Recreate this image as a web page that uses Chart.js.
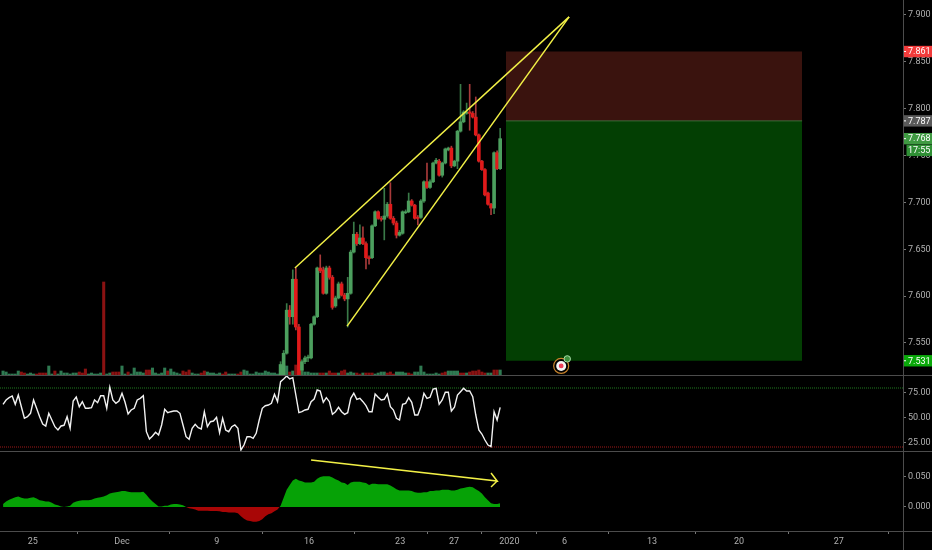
<!DOCTYPE html>
<html>
<head>
<meta charset="utf-8">
<style>html,body{margin:0;padding:0;background:#000;overflow:hidden}canvas{display:block}</style>
<script src="https://cdn.jsdelivr.net/npm/chart.js@4"></script>
</head>
<body>
<canvas id="c" width="932" height="550"></canvas>
<script>
// ---- data ----
const candleStart = 91;
const candleOpen = [7.516,7.516,7.539,7.585,7.578,7.618,7.567,7.521,7.530,7.534,7.534,7.570,7.578,7.630,7.628,7.603,7.630,7.620,7.5895,7.598,7.613,7.601,7.597,7.603,7.647,7.666,7.656,7.662,7.656,7.641,7.641,7.675,7.690,7.683,7.682,7.6855,7.698,7.683,7.678,7.665,7.667,7.689,7.690,7.7015,7.697,7.684,7.684,7.7015,7.722,7.716,7.722,7.742,7.744,7.729,7.742,7.756,7.758,7.739,7.744,7.776,7.786,7.795,7.7965,7.795,7.791,7.772,7.744,7.735,7.710,7.698,7.694,7.753,7.736];
const candleClose = [7.527,7.539,7.585,7.578,7.618,7.567,7.516,7.530,7.534,7.535,7.570,7.578,7.630,7.627,7.603,7.630,7.620,7.588,7.598,7.613,7.601,7.597,7.603,7.647,7.666,7.656,7.662,7.656,7.641,7.640,7.675,7.690,7.683,7.682,7.6855,7.698,7.683,7.678,7.665,7.668,7.690,7.690,7.7015,7.697,7.683,7.683,7.7015,7.722,7.716,7.722,7.742,7.745,7.729,7.742,7.757,7.758,7.739,7.744,7.776,7.786,7.7965,7.7965,7.795,7.791,7.772,7.744,7.735,7.708,7.698,7.694,7.753,7.736,7.768];
const candleHigh = [7.530,7.542,7.592,7.590,7.628,7.630,7.570,7.532,7.536,7.537,7.571,7.579,7.631,7.644,7.631,7.632,7.632,7.622,7.600,7.615,7.615,7.603,7.620,7.649,7.679,7.668,7.676,7.674,7.658,7.643,7.676,7.691,7.691,7.685,7.715,7.700,7.721,7.685,7.680,7.670,7.691,7.692,7.710,7.703,7.698,7.686,7.703,7.723,7.742,7.724,7.743,7.747,7.746,7.743,7.758,7.759,7.760,7.745,7.777,7.826,7.798,7.806,7.826,7.797,7.8125,7.773,7.745,7.736,7.711,7.699,7.754,7.755,7.779];
const candleLow = [7.516,7.516,7.538,7.570,7.570,7.564,7.516,7.516,7.528,7.530,7.533,7.569,7.577,7.625,7.602,7.602,7.618,7.586,7.588,7.597,7.600,7.595,7.567,7.602,7.646,7.654,7.655,7.655,7.629,7.634,7.640,7.674,7.682,7.680,7.660,7.684,7.682,7.676,7.662,7.664,7.666,7.688,7.689,7.696,7.682,7.676,7.683,7.700,7.715,7.715,7.721,7.741,7.728,7.727,7.741,7.755,7.737,7.738,7.736,7.775,7.785,7.794,7.777,7.790,7.771,7.743,7.734,7.707,7.697,7.687,7.688,7.735,7.735];
// negative = down bar
const volumes = [4,3,1,1,1,4,-3,-2,1,2,1,-1,-2,-2,-2,9,1,-4,1,4,2,2,1,2,2,-3,-2,-6,1,2,1,1,2,-93,1,2,-3,-3,-3,9,1,-3,1,7,3,3,2,-5,-5,7,2,1,2,7,-4,6,3,2,1,-4,-3,-5,2,1,1,-2,-4,3,2,2,1,2,-1,-3,1,1,1,-1,-3,5,4,1,1,3,2,2,4,3,2,2,1,
 9,10,9,-3,4,-10,-9,5,3,3,2,2,2,-2,-2,2,-4,-2,-2,2,-4,-5,2,3,2,-2,-1,2,-2,-2,-2,1,2,3,3,-2,-3,-1,3,3,3,2,-2,-1,3,3,9,3,1,1,1,2,1,-2,-3,4,4,4,4,-2,-2,2,-3,-4,-4,-5,-3,-2,2,2,-5,-5,5];
const rsiValues = [63.4,67.7,70,71.7,63.4,72.7,61,49.4,51,54.4,67.7,59.4,51,43.7,41.7,54.4,47.7,41,37.7,41.7,42.4,51,39.4,66.7,70.7,61,66,59.4,59.4,60,67.7,65,72,72,59.4,80.4,67.7,64.4,66.7,74.4,65.4,53.7,57.7,59.4,67.7,69.4,72,36,28.7,31.7,35.4,32.7,42.7,58.4,55,56,56.7,56.7,54.4,42.7,31,28.4,39.4,43.4,40,38.7,56,41,46,46.7,50.4,35,49.4,37.7,36,41,42.7,39.4,17.7,22.7,31,31,29.4,34.4,47.7,59.4,62,62.7,64.4,73.4,66,86,88.7,91.7,88.7,
 90,72.7,55,56,57.7,58.4,66,68.7,77.7,76.7,65.4,70,66,53.4,56,60.4,56,53.4,55,69.4,74.4,68.4,69.4,66,62,56,56,73.7,70.4,67.7,68.4,73.7,61,57.7,49.4,47.7,63.4,64.4,70,65.4,52.7,52.7,61,74.4,69.4,70.4,78.7,79.4,63.4,67.7,75.4,75.4,56.7,60.4,72.7,76,79.4,76.7,76.7,71,52.7,37.7,33.7,27.7,22.7,21,56,47.7,60.4];
const oscValues = [.001,.005,.009,.012,.014,.016,.017,.015,.014,.014,.015,.016,.014,.011,.010,.009,.009,.007,.004,.003,.001,0,.001,.002,.007,.009,.010,.011,.011,.011,.012,.014,.015,.016,.017,.019,.022,.023,.024,.025,.026,.026,.025,.024,.024,.024,.024,.025,.020,.014,.009,.005,.001,.001,.002,.002,.004,.005,.005,.004,.003,0,-.002,-.003,-.004,-.006,-.006,-.006,-.006,-.0065,-.0065,-.0065,-.007,-.008,-.008,-.009,-.009,-.009,-.010,-.015,-.019,-.022,-.023,-.024,-.024,-.023,-.020,-.015,-.012,-.010,-.007,-.004,.002,.015,.028,
 .036,.043,.046,.043,.042,.040,.040,.040,.041,.046,.049,.050,.050,.050,.048,.045,.043,.040,.039,.036,.040,.041,.041,.041,.040,.039,.036,.038,.038,.037,.037,.037,.037,.035,.032,.029,.027,.027,.027,.027,.026,.024,.023,.023,.024,.024,.026,.026,.027,.027,.028,.028,.028,.027,.027,.028,.030,.031,.032,.033,.032,.029,.026,.022,.016,.011,.006,.005,.005,.006].slice(1);
const rsiUpperBand = 79.7, rsiLowerBand = 20.7;
const wedgeUpper = [{x:95.7,y:7.630},{x:185.6,y:7.898}];
const wedgeLower = [{x:112.8,y:7.568},{x:185.6,y:7.898}];
const oscArrow = [{x:101,y:.0765},{x:162,y:.0423},{x:160,y:.0554},{x:162,y:.0423},{x:160,y:.0326}];
const stopBox = {from:164.9,to:262,top:7.861,bottom:7.787};
const targetBox = {from:164.9,to:262,top:7.787,bottom:7.531};
const iconSpot = {x:183,y:7.5255}, iconBubble = {x:185,y:7.533};
const priceTicks = [7.55,7.60,7.65,7.70,7.75,7.80,7.85,7.90];
const rsiTicks = [25,50,75];
const oscTicks = [0,0.05];
const xTickIndex = [9.74,39,70.07,100.3,130.2,147.9,166,184.1,212.8,241.3,274];
const xTickLabels = ['25','Dec','9','16','23','27','2020','6','13','20','27'];
const priceBadges = [
 {v:7.861,t:'7.861',c:'#f23b3b'},
 {v:7.787,t:'7.787',c:'#5a5a5a'},
 {v:7.768,t:'7.768',c:'#3f9a42'},
 {v:7.531,t:'7.531',c:'#0aa80a'}
];
const countdown = {v:7.7555,t:'17:55',c:'#2f8f35'};

// ---- built from the arrays ----
const barIdx = i => candleStart + i;
const up = i => candleClose[i] >= candleOpen[i];
const candleBodies = candleOpen.map((o,i)=>({x:barIdx(i),y:[o,candleClose[i]]}));
const candleWicks = candleHigh.map((h,i)=>({x:barIdx(i),y:[candleLow[i],h]}));
const volBars = volumes.map((v,i)=>({x:i,y:Math.abs(v)}));
const rsiLine = rsiValues.map((y,x)=>({x,y}));
const oscLine = oscValues.map((y,x)=>({x,y}));
const FONT = {family:'Roboto, "Liberation Sans", sans-serif', size:9};
const LABEL = '#b0b0b0', LINE = '#4c4c4c', YELLOW = '#f2f046';

const panelPlugin = {
  id:'panels',
  afterDraw(chart){
    const c = chart.ctx, s = chart.scales;
    c.save();
    c.strokeStyle = LINE; c.lineWidth = 1;
    [s.yRsi.top, s.yRsi.bottom, s.yOsc.bottom].forEach(y=>{
      c.beginPath(); c.moveTo(0,Math.round(y)+.5); c.lineTo(932,Math.round(y)+.5); c.stroke();
    });
    const ax = Math.round(s.yPrice.left)+.5;
    c.beginPath(); c.moveTo(ax,0); c.lineTo(ax,550); c.stroke();
    c.font = FONT.size+'px '+FONT.family; c.textBaseline='middle'; c.textAlign='left';
    priceBadges.concat([countdown]).forEach(b=>{
      const y = s.yPrice.getPixelForValue(b.v);
      const isClock = b===countdown;
      const left = isClock ? ax+3 : ax+.5;
      c.fillStyle = b.c; c.fillRect(left,y-5.7,932-left,11.4);
      if(!isClock){ c.fillStyle='#ffffff'; c.fillRect(ax+.5,y-.5,2,1); }
      c.fillStyle='#ffffff'; c.fillText(b.t,908,y+.5);
    });
    c.restore();
  }
};
const setTicks = vals => ({afterBuildTicks(a){a.ticks = vals.map(value=>({value}));}, afterFit(a){a.width=29;a.paddingTop=0;a.paddingBottom=0;}});
const yAxis = (min,max,weight,vals,digits)=>({
  type:'linear',position:'right',stack:'right',stackWeight:weight,min,max,
  border:{color:LINE},
  grid:{drawOnChartArea:false,drawTicks:true,tickLength:3,tickColor:'#777'},
  ticks:{color:LABEL,font:FONT,padding:2,autoSkip:false,maxRotation:0,callback:v=>Number(v).toFixed(digits)},
  ...setTicks(vals)
});
const lineBase = {type:'line',pointRadius:0,xAxisID:'x',fill:false,tension:0};
new Chart(document.getElementById('c'),{
  type:'bar',
  plugins:[panelPlugin],
  data:{datasets:[
    {...lineBase,label:'Stop',yAxisID:'yPrice',order:20,data:[{x:stopBox.from,y:stopBox.top},{x:stopBox.to,y:stopBox.top}],borderWidth:0,fill:{value:stopBox.bottom},backgroundColor:'#3a130e'},
    {...lineBase,label:'Target',yAxisID:'yPrice',order:19,data:[{x:targetBox.from,y:targetBox.top},{x:targetBox.to,y:targetBox.top}],borderWidth:1,borderColor:'#3d6b3a',fill:{value:targetBox.bottom},backgroundColor:'#033f03'},
    {type:'bar',label:'Volume',yAxisID:'yVol',order:15,grouped:false,barThickness:2.4,data:volBars,backgroundColor:volumes.map(v=>v<0?'#8a1212':'#2f7a52')},
    {type:'bar',label:'Wick',yAxisID:'yPrice',order:12,grouped:false,barThickness:1,data:candleWicks,backgroundColor:candleOpen.map((_,i)=>up(i)?'#3a7a48':'#a83a3a')},
    {type:'bar',label:'Body',yAxisID:'yPrice',order:11,grouped:false,barThickness:3,data:candleBodies,backgroundColor:candleOpen.map((_,i)=>up(i)?'#4c9f5e':'#e01a1a')},
    {...lineBase,label:'Wedge upper',yAxisID:'yPrice',order:5,data:wedgeUpper,borderColor:YELLOW,borderWidth:1.5},
    {...lineBase,label:'Wedge lower',yAxisID:'yPrice',order:5,data:wedgeLower,borderColor:YELLOW,borderWidth:1.5},
    {...lineBase,label:'Upper band',yAxisID:'yRsi',order:9,data:[{x:-1,y:rsiUpperBand},{x:296,y:rsiUpperBand}],borderColor:'#1f7a1f',borderWidth:1,borderDash:[1,1]},
    {...lineBase,label:'Lower band',yAxisID:'yRsi',order:9,data:[{x:-1,y:rsiLowerBand},{x:296,y:rsiLowerBand}],borderColor:'#a01818',borderWidth:1,borderDash:[1,1]},
    {...lineBase,label:'RSI',yAxisID:'yRsi',order:8,data:rsiLine,borderColor:'#f2f2f2',borderWidth:1.4},
    {...lineBase,label:'Oscillator',yAxisID:'yOsc',order:8,data:oscLine,borderWidth:0,fill:{target:{value:0},above:'#06a206',below:'#a80606'}},
    {...lineBase,label:'Arrow',yAxisID:'yOsc',order:5,data:oscArrow,borderColor:YELLOW,borderWidth:1.5},
    {...lineBase,label:'Icon ring',yAxisID:'yPrice',order:4,showLine:false,pointRadius:7.5,pointBackgroundColor:'#000',pointBorderColor:'#c8832c',pointBorderWidth:1.2,data:[iconSpot]},
    {...lineBase,label:'Icon disc',yAxisID:'yPrice',order:3,showLine:false,pointRadius:5,pointBackgroundColor:'#f5f5f5',pointBorderWidth:0,data:[iconSpot]},
    {...lineBase,label:'Icon dot',yAxisID:'yPrice',order:2,showLine:false,pointRadius:2.4,pointBackgroundColor:'#f0405c',pointBorderWidth:0,data:[iconSpot]},
    {...lineBase,label:'Icon bubble',yAxisID:'yPrice',order:1,showLine:false,pointRadius:3.2,pointBackgroundColor:'#3d8f3d',pointBorderColor:'#a8dca8',pointBorderWidth:1,data:[iconBubble]}
  ]},
  options:{
    responsive:false,animation:false,devicePixelRatio:1,
    layout:{padding:0,autoPadding:false},
    plugins:{legend:{display:false},tooltip:{enabled:false},title:{display:false}},
    scales:{
      x:{type:'linear',position:'bottom',min:-1,max:295.08,offset:false,
        border:{color:LINE},
        grid:{drawOnChartArea:false,drawTicks:true,tickLength:3,tickColor:'#777'},
        ticks:{color:LABEL,font:FONT,padding:2,autoSkip:false,maxRotation:0,minRotation:0,
          callback:v=>xTickLabels[xTickIndex.indexOf(v)]},
        afterBuildTicks(a){a.ticks = xTickIndex.map(value=>({value}));},
        afterFit(a){a.height=19;a.paddingLeft=0;a.paddingRight=0;}
      },
      yPrice:yAxis(7.5158,7.916,375,priceTicks,3),
      yRsi:yAxis(16.7,92.7,76,rsiTicks,2),
      yOsc:yAxis(-0.0391,0.0912,80,oscTicks,3),
      yVol:{type:'linear',display:false,position:'right',min:-156,max:375}
    }
  }
});
</script>
</body>
</html>
